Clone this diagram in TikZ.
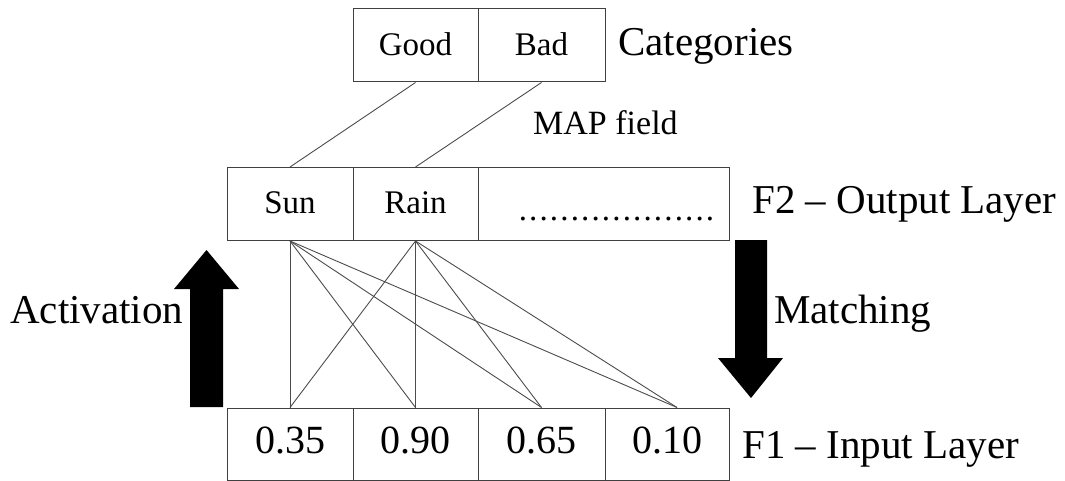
\documentclass[tikz,border=0pt]{standalone}
\usepackage{fontspec}
\setmainfont{Liberation Serif}
\usetikzlibrary{calc}
\begin{document}
\begin{tikzpicture}[x=1pt,y=-1pt,
  cell/.style={draw=black!75, line width=1pt, inner sep=0pt, minimum height=73pt},
  small/.style={font=\fontsize{33}{40}\selectfont, text height=23pt, text depth=2pt},
  num/.style={font=\fontsize{40}{48}\selectfont, text height=27pt, text depth=9pt},
  link/.style={draw=black!70, line width=0.9pt},
  big/.style={font=\fontsize{41}{48}\selectfont, inner sep=0pt},
  bigarrow/.style={fill=black}
]
\useasboundingbox (0,0) rectangle (1065,481);

% categories
\node[cell, small, minimum width=125pt] (good) at (415.5,45.5) {Good};
\node[cell, small, minimum width=127pt] (bad) at (541.5,45.5) {Bad};
\node[big, anchor=base west] (catlabel) at (618,56) {Categories};

% map field label
\node[font=\fontsize{34}{40}\selectfont, inner sep=0pt, anchor=base west] (maplabel) at (533,135) {MAP field};

% F2 output layer
\node[cell, small, minimum width=126pt, text depth=5pt] (sun) at (290,204) {Sun};
\node[cell, small, minimum width=125pt, text depth=5pt] (rain) at (415.5,204) {Rain};
\node[cell, minimum width=251pt] (more) at (603.5,204) {};
\node[font=\fontsize{33}{40}\selectfont, inner sep=0pt, anchor=base] (dots) at (616.5,220)
  {\foreach \i in {1,...,19}{\makebox[10.4pt]{.}}};
\node[big, anchor=base west] (f2label) at (752,213) {F2 – Output Layer};

% F1 input layer
\node[cell, num, minimum width=126pt, minimum height=72pt] (in1) at (290,444) {0.35};
\node[cell, num, minimum width=125pt, minimum height=72pt] (in2) at (415.5,444) {0.90};
\node[cell, num, minimum width=127pt, minimum height=72pt] (in3) at (541.5,444) {0.65};
\node[cell, num, minimum width=124pt, minimum height=72pt] (in4) at (667,444) {0.10};
\node[big, anchor=base west] (f1label) at (742,458) {F1 – Input Layer};

\coordinate (in4top) at ($(in4.north)+(10,0)$);

% map field links
\draw[link] (good.south) -- (sun.north);
\draw[link] (bad.south) -- (rain.north);

% full connections
\foreach \s in {sun,rain}{
  \draw[link] (\s.south) -- (in1.north);
  \draw[link] (\s.south) -- (in2.north);
  \draw[link] (\s.south) -- (in3.north);
  \draw[link] (\s.south) -- (in4top);
}

% activation arrow
\fill[bigarrow] (190,407) -- (190,289) -- (174,289) -- (206.5,250) -- (239,289) -- (223,289) -- (223,407) -- cycle;
\node[big, anchor=base west] (actlabel) at (10,323) {Activation};

% matching arrow
\fill[bigarrow] (735,240) -- (767,240) -- (767,358) -- (783,358) -- (751,398) -- (718,358) -- (735,358) -- cycle;
\node[big, anchor=base west] (matchlabel) at (774,323) {Matching};
\end{tikzpicture}
\end{document}
